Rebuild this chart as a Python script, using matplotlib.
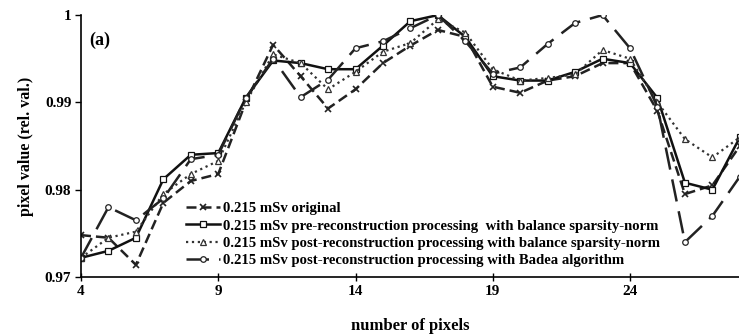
import matplotlib
matplotlib.use("Agg")
import matplotlib.pyplot as plt

plt.rcParams["font.family"] = ["Liberation Serif", "DejaVu Serif"]
plt.rcParams["font.weight"] = "bold"

# --------------------DATA-------------------- #

pixels = list(range(4, 29))

original = [0.9748, 0.9745, 0.9714, 0.9785, 0.9810, 0.9818, 0.9900, 0.9966, 0.9930,
            0.9893, 0.9915, 0.9945, 0.9965, 0.9983, 0.9975, 0.9918, 0.9911, 0.9925,
            0.9930, 0.9945, 0.9945, 0.9890, 0.9795, 0.9805, 0.9850]
preBalance = [0.9722, 0.9730, 0.9745, 0.9812, 0.9840, 0.9842, 0.9905, 0.9948, 0.9945,
              0.9938, 0.9938, 0.9965, 0.9993, 1.0000, 0.9975, 0.9930, 0.9925, 0.9925,
              0.9935, 0.9950, 0.9945, 0.9905, 0.9808, 0.9800, 0.9860]
postBalance = [0.9722, 0.9745, 0.9752, 0.9795, 0.9818, 0.9833, 0.9900, 0.9955, 0.9945,
               0.9915, 0.9935, 0.9958, 0.9968, 0.9995, 0.9980, 0.9938, 0.9925, 0.9928,
               0.9932, 0.9960, 0.9950, 0.9900, 0.9858, 0.9837, 0.9860]
badea = [0.9722, 0.9780, 0.9765, 0.9790, 0.9835, 0.9840, 0.9905, 0.9950, 0.9906,
         0.9926, 0.9962, 0.9970, 0.9985, 1.0000, 0.9970, 0.9933, 0.9940, 0.9967,
         0.9991, 1.0000, 0.9962, 0.9895, 0.9740, 0.9770, 0.9815]

labels = ["0.215 mSv original",
          "0.215 mSv pre-reconstruction processing  with balance sparsity-norm",
          "0.215 mSv post-reconstruction processing with balance sparsity-norm",
          "0.215 mSv post-reconstruction processing with Badea algorithm"]

xTicks = [4, 9, 14, 19, 24]
yTicks = [0.97, 0.98, 0.99, 1.0]
yTickLabels = ["0.97", "0.98", "0.99", "1"]

# --------------------PLOT-------------------- #

fig = plt.figure(figsize=(7.39, 3.35), dpi=100)
ax = fig.add_axes([0.1096, 0.173, 0.8904, 0.782])

ax.plot(pixels, original, color="#222222", linestyle=(0, (4, 2)), linewidth=1.8,
        marker="x", markersize=5, markeredgewidth=1.2, label=labels[0])
ax.plot(pixels, preBalance, color="#111111", linestyle="-", linewidth=1.8,
        marker="s", markersize=5, markerfacecolor="white", markeredgewidth=0.9, label=labels[1])
ax.plot(pixels, postBalance, color="#333333", linestyle=":", linewidth=1.6,
        marker="^", markersize=5, markerfacecolor="white", markeredgewidth=0.9, label=labels[2])
ax.plot(pixels, badea, color="#222222", linestyle=(0, (9, 4)), linewidth=1.8,
        marker="o", markersize=4, markerfacecolor="white", markeredgewidth=0.9, label=labels[3])

ax.set_xlim(4, 27.97)
ax.set_ylim(0.97, 1.0)
ax.set_xticks(xTicks)
ax.set_yticks(yTicks)
ax.set_yticklabels(yTickLabels)

for side in ["top", "right"]:
    ax.spines[side].set_visible(False)
ax.spines["left"].set_linewidth(1.2)
ax.spines["bottom"].set_linewidth(1.2)
ax.tick_params(axis="x", direction="inout", length=6, width=1, labelsize=11, pad=3)
ax.tick_params(axis="y", direction="out", length=4, width=1, labelsize=11, pad=3)
for lbl in ax.get_xticklabels() + ax.get_yticklabels():
    lbl.set_fontweight("bold")

ax.set_xlabel("number of pixels", fontsize=12, fontweight="bold", labelpad=14)
ax.set_ylabel("pixel value (rel. val.)", fontsize=11.5, fontweight="bold", labelpad=8)

ax.text(0.012, 0.885, "(a)", transform=ax.transAxes, fontsize=13, fontweight="bold")

ax.legend(loc="lower left", bbox_to_anchor=(0.145, 0.0), frameon=False,
          prop={"size": 10.6, "weight": "bold"}, handlelength=2.3, handletextpad=0.2,
          labelspacing=0.28, borderaxespad=0.25)

fig.savefig("out.png", dpi=100)
